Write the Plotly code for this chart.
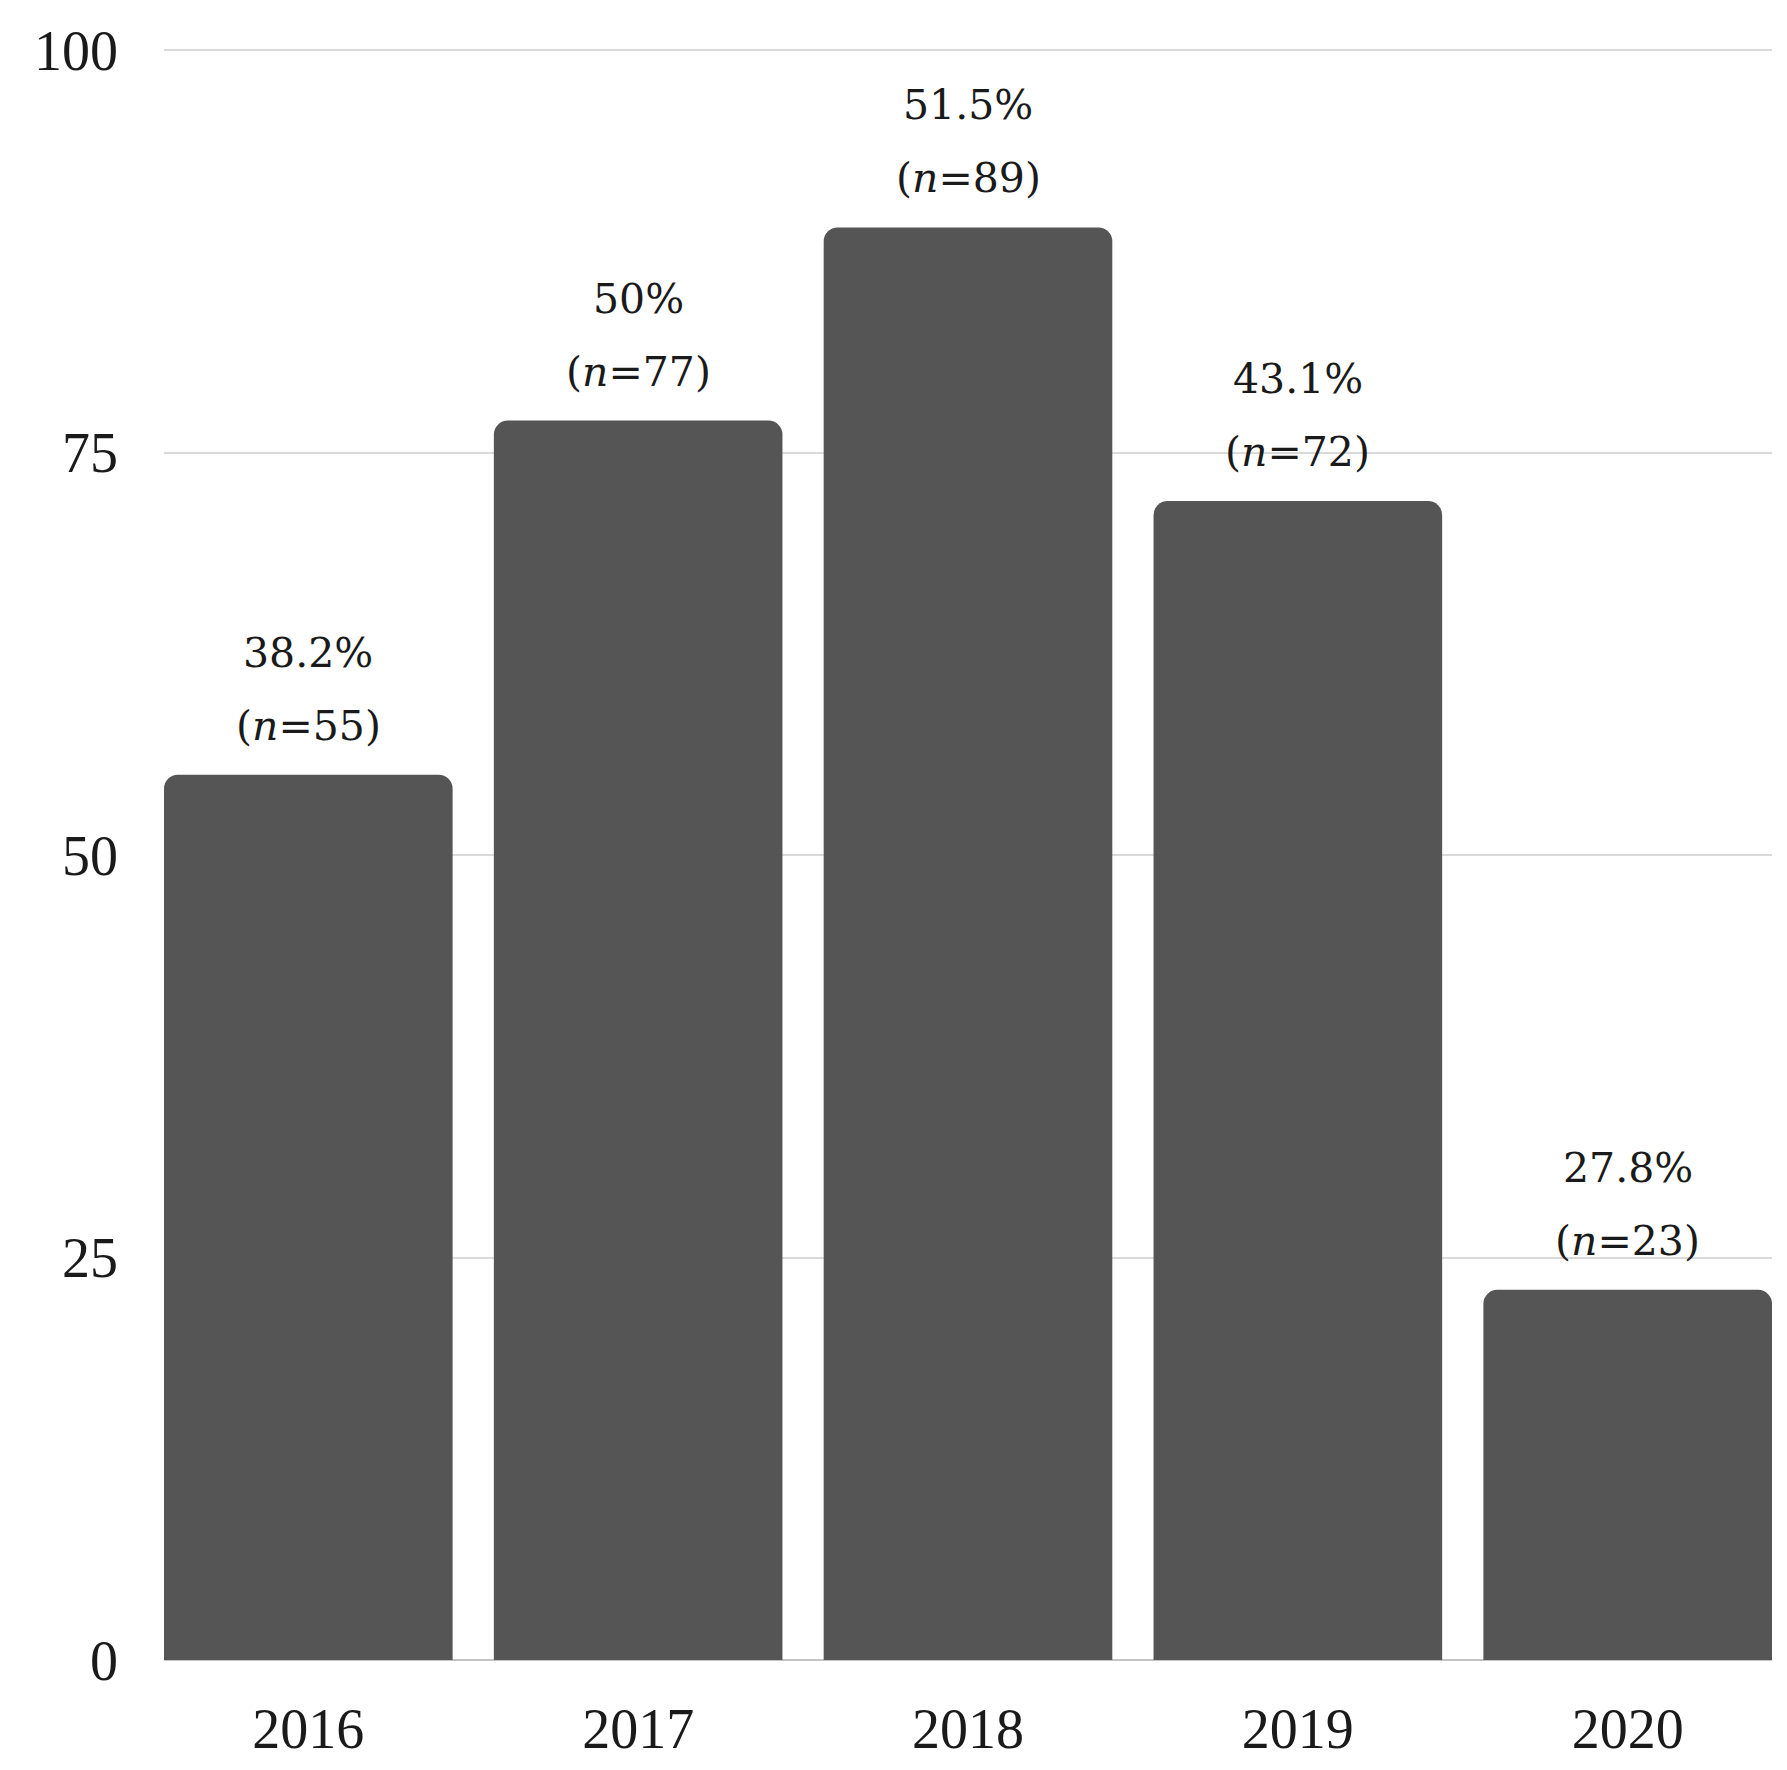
import plotly.graph_objects as go

years = ["2016", "2017", "2018", "2019", "2020"]
counts = [55, 77, 89, 72, 23]
percents = ["38.2%", "50%", "51.5%", "43.1%", "27.8%"]
y_ticks = [0, 25, 50, 75, 100]

BAR = "#555555"
TXT = "#1a1a1a"
TICK_FONT = dict(family="Liberation Serif", size=56, color=TXT)
ANN_FONT = dict(family="DejaVu Serif", size=41, color=TXT)

gap = 0.125
fig = go.Figure(go.Bar(
    x=years, y=counts,
    marker=dict(color=BAR, line=dict(width=0), cornerradius=14),
    hoverinfo="skip",
))

for i, (c, p) in enumerate(zip(counts, percents)):
    fig.add_annotation(x=i, y=c, xref="x", yref="y", text=p, showarrow=False,
                       yanchor="middle", yshift=122, font=ANN_FONT)
    fig.add_annotation(x=i, y=c, xref="x", yref="y", text=f"(<i>n</i>={c})",
                       showarrow=False, yanchor="middle", yshift=49, font=ANN_FONT)

fig.update_layout(
    width=1787, height=1770,
    margin=dict(l=156, r=23, t=40, b=118),
    paper_bgcolor="white", plot_bgcolor="white",
    bargap=gap, showlegend=False,
)
fig.update_xaxes(
    type="category", range=[-0.5 + gap / 2, 4.5 - gap / 2],
    showgrid=False, showline=False, zeroline=False,
    tickfont=TICK_FONT, ticks="", ticklabelstandoff=31,
)
fig.update_yaxes(
    range=[0, 100.15], tickvals=y_ticks, ticktext=[str(v) for v in y_ticks],
    showgrid=True, gridcolor="#dadada", gridwidth=2,
    zeroline=True, zerolinecolor="#c4c4c4", zerolinewidth=2,
    showline=False, tickfont=TICK_FONT, ticks="", ticklabelstandoff=45,
)

fig.write_html("out.html")
